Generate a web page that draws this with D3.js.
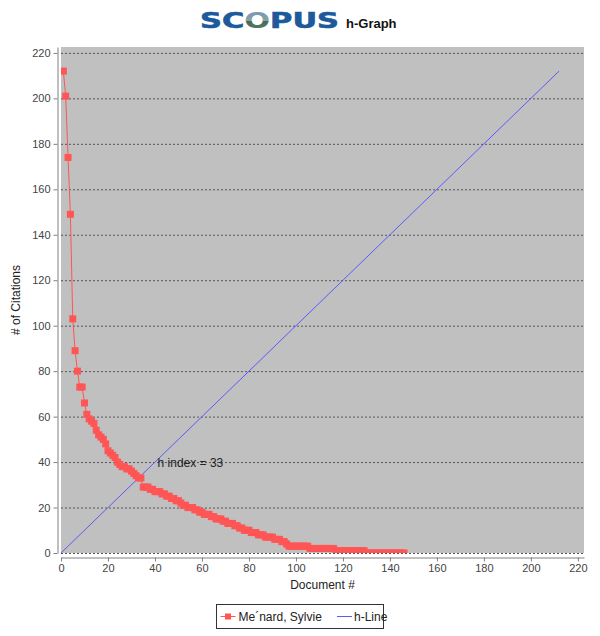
<!DOCTYPE html>
<html lang="en">
<head>
  <meta charset="utf-8">
  <title>Scopus h-Graph</title>
  <script src="https://d3js.org/d3.v7.min.js"></script>
  <style>
    body { margin: 0; background: #fff; }
    svg { display: block; font-family: "Liberation Sans", Arial, sans-serif; }
  </style>
</head>
<body>
  <svg width="600" height="636"></svg>
  <script>
    // citations per document, sorted descending
    const citations = [
      212, 201, 174, 149, 103, 89, 80, 73, 73, 66, 61, 59, 58, 57, 54, 52, 51, 50, 48, 45,
      44, 43, 42, 40, 39, 38, 38, 37, 37, 36, 35, 34, 33, 33,
      29, 29, 29, 28, 28, 27, 27, 27, 26, 26, 25, 25, 24, 24, 23, 23, 22, 21, 21, 20,
      20, 20, 19, 19, 18, 18, 17, 17, 17, 16, 16, 15, 15, 15, 14, 14, 13, 13, 13, 12,
      12, 11, 11, 10, 10, 10, 9, 9, 9, 8, 8, 8, 7, 7, 7, 7, 6, 6, 6, 5, 5, 4,
      3, 3, 3, 3, 3, 3, 3, 3, 3,
      2, 2, 2, 2, 2, 2, 2, 2, 2, 2, 2,
      1, 1, 1, 1, 1, 1, 1, 1, 1, 1, 1, 1, 1,
      0, 0, 0, 0, 0, 0, 0, 0, 0, 0, 0, 0, 0, 0, 0, 0, 0
    ];
    const hLineX = [0, 212];
    const hLineY = [0, 212];
    const hIndex = 33;
    const authorName = "Me\u00B4nard, Sylvie";
    const xTicks = d3.range(0, 221, 20);
    const yTicks = d3.range(0, 221, 20);

    const svg = d3.select("svg");
    const plot = { left: 61, right: 584, top: 47, bottom: 553 };

    const x = d3.scaleLinear().domain([0, 222.6]).range([plot.left, plot.right]);
    const y = d3.scaleLinear().domain([0, 222.6]).range([plot.bottom, plot.top]);

    // title
    const grad = svg.append("defs").append("linearGradient")
      .attr("id", "logoO").attr("x1", 0).attr("y1", 0).attr("x2", 0).attr("y2", 1);
    grad.append("stop").attr("offset", "0%").attr("stop-color", "#6f93b3");
    grad.append("stop").attr("offset", "50%").attr("stop-color", "#8aa0a8");
    grad.append("stop").attr("offset", "51%").attr("stop-color", "#3f6b4a");
    grad.append("stop").attr("offset", "100%").attr("stop-color", "#6d7f7a");

    const logo = svg.append("text")
      .attr("x", 200).attr("y", 27.5)
      .attr("font-family", "'DejaVu Sans', Arial, sans-serif")
      .attr("font-weight", "bold").attr("font-size", 20.5)
      .attr("textLength", 139).attr("lengthAdjust", "spacingAndGlyphs")
      .attr("fill", "#1c5a9b").attr("stroke", "#1c5a9b").attr("stroke-width", 0.6);
    logo.append("tspan").text("SC");
    logo.append("tspan").attr("fill", "url(#logoO)").attr("stroke", "none").text("O");
    logo.append("tspan").text("PUS");

    svg.append("text")
      .attr("x", 346).attr("y", 27.5)
      .attr("font-weight", "bold").attr("font-size", 13)
      .attr("fill", "#111").text("h-Graph");

    // plot background
    svg.append("rect")
      .attr("x", plot.left).attr("y", plot.top)
      .attr("width", plot.right - plot.left).attr("height", plot.bottom - plot.top)
      .attr("fill", "#c0c0c0");

    // grid
    svg.append("g").selectAll("line")
      .data(yTicks)
      .join("line")
      .attr("x1", plot.left).attr("x2", plot.right)
      .attr("y1", d => y(d) + 0.5).attr("y2", d => y(d) + 0.5)
      .attr("stroke", "#555").attr("stroke-width", 1)
      .attr("stroke-dasharray", "2,2");

    // axes
    const xAxis = svg.append("g")
      .attr("transform", `translate(0,${plot.bottom + 4.5})`)
      .call(d3.axisBottom(x).tickValues(xTicks).tickSize(4).tickPadding(3).tickSizeOuter(0));
    const yAxis = svg.append("g")
      .attr("transform", `translate(${plot.left - 3.5},0)`)
      .call(d3.axisLeft(y).tickValues(yTicks).tickSize(4).tickPadding(3).tickSizeOuter(0));

    [xAxis, yAxis].forEach(g => {
      g.select(".domain").attr("stroke", "#808080");
      g.selectAll(".tick line").attr("stroke", "#808080");
      g.selectAll(".tick text")
        .attr("font-family", "'Liberation Sans', Arial, sans-serif")
        .attr("font-size", 11).attr("fill", "#444");
    });

    svg.append("text")
      .attr("x", (plot.left + plot.right) / 2).attr("y", 589)
      .attr("text-anchor", "middle").attr("font-size", 12).attr("fill", "#222")
      .text("Document #");

    svg.append("text")
      .attr("transform", `translate(20,${(plot.top + plot.bottom) / 2}) rotate(-90)`)
      .attr("text-anchor", "middle").attr("font-size", 12).attr("fill", "#222")
      .text("# of Citations");

    // clip to plot area
    svg.append("clipPath").attr("id", "plotClip")
      .append("rect")
      .attr("x", plot.left).attr("y", plot.top)
      .attr("width", plot.right - plot.left).attr("height", plot.bottom - plot.top);

    const layer = svg.append("g").attr("clip-path", "url(#plotClip)");

    // h-line
    const hPoints = hLineX.map((d, i) => [d, hLineY[i]]);
    layer.append("path")
      .datum(hPoints)
      .attr("d", d3.line().x(d => x(d[0])).y(d => y(d[1])))
      .attr("fill", "none").attr("stroke", "#5a5aff").attr("stroke-width", 1);

    // citation series
    const series = citations.map((c, i) => [i + 1, c]);
    layer.append("path")
      .datum(series)
      .attr("d", d3.line().x(d => x(d[0])).y(d => y(d[1])))
      .attr("fill", "none").attr("stroke", "#ff5555").attr("stroke-width", 1);

    layer.append("g").selectAll("rect")
      .data(series)
      .join("rect")
      .attr("x", d => x(d[0]) - 3.5).attr("y", d => y(d[1]) - 3.5)
      .attr("width", 7).attr("height", 7)
      .attr("fill", "#ff5555");

    // annotation
    svg.append("text")
      .attr("x", x(hIndex) + 19).attr("y", y(hIndex) - 11)
      .attr("font-size", 12).attr("fill", "#222")
      .text("h index = " + hIndex);

    // legend
    const legend = svg.append("g").attr("transform", "translate(216.5,604.5)");
    legend.append("rect")
      .attr("width", 167).attr("height", 24)
      .attr("fill", "#fff").attr("stroke", "#333").attr("stroke-width", 1);
    legend.append("line")
      .attr("x1", 4).attr("x2", 19).attr("y1", 12).attr("y2", 12)
      .attr("stroke", "#ff5555");
    legend.append("rect")
      .attr("x", 8.5).attr("y", 9).attr("width", 6).attr("height", 6)
      .attr("fill", "#ff5555");
    legend.append("text")
      .attr("x", 22).attr("y", 16.5).attr("font-size", 12).attr("fill", "#222")
      .text(authorName);
    legend.append("line")
      .attr("x1", 120.5).attr("x2", 135.5).attr("y1", 12).attr("y2", 12)
      .attr("stroke", "#5a5aff");
    legend.append("text")
      .attr("x", 137.5).attr("y", 16.5).attr("font-size", 12).attr("fill", "#222")
      .text("h-Line");
  </script>
</body>
</html>
